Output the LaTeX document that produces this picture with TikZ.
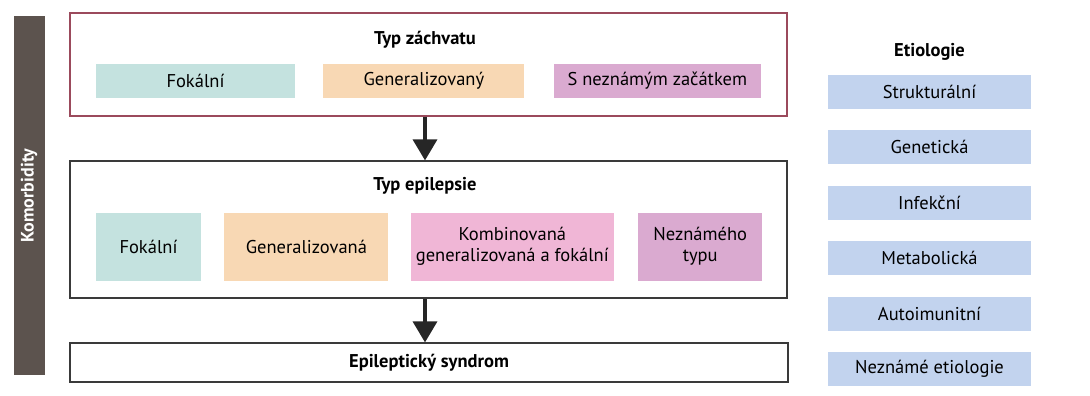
\documentclass[tikz,border=0pt]{standalone}
\usepackage{fontspec}
\setmainfont{PT Sans}
\usetikzlibrary{arrows.meta, positioning}

\definecolor{framered}{HTML}{9B4A5C}
\definecolor{framegray}{HTML}{3A3A3A}
\definecolor{komorb}{HTML}{5C534E}
\definecolor{tealbox}{HTML}{C4E2DF}
\definecolor{peachbox}{HTML}{F8D8B4}
\definecolor{mauvebox}{HTML}{DAAAD0}
\definecolor{pinkbox}{HTML}{F0B6D6}
\definecolor{bluebox}{HTML}{C2D3EE}

\begin{document}
\begin{tikzpicture}[
  x=1pt, y=-1pt,
  font=\fontsize{18.5}{21}\selectfont,
  frame/.style={rectangle, draw=framegray, line width=1.2pt, inner sep=0pt},
  box/.style={rectangle, align=center, inner sep=0pt, minimum height=34pt},
  title/.style={font=\fontsize{18.5}{21}\selectfont\bfseries},
  arrow/.style={-{Triangle[width=24pt,length=21pt]}, line width=3.6pt, draw=black!85}
]
\useasboundingbox (0,0) rectangle (1090,396);

% left bar
\node[rectangle, fill=komorb, text=white, rotate=90, minimum width=359pt, minimum height=31pt,
  font=\fontsize{18}{20}\selectfont\bfseries] (komorb) at (29,195.5) {Komorbidity};

% seizure type
\node[frame, draw=framered, minimum width=717pt, minimum height=103pt] (zachvat) at (428.5,64.5) {};
\node[title] (zachvatT) at (425,40) {Typ záchvatu};
\node[box, fill=tealbox, minimum width=199pt] (zFok) at (195.5,81) {Fokální};
\node[box, fill=peachbox, minimum width=201pt, right=28pt of zFok] (zGen) {Generalizovaný};
\node[box, fill=mauvebox, minimum width=207pt, right=29pt of zGen] (zNez) {S neznámým začátkem};

% epilepsy type
\node[frame, minimum width=717pt, minimum height=137pt] (epil) at (428.5,229.5) {};
\node[title] (epilT) at (425,186) {Typ epilepsie};
\node[box, fill=tealbox, minimum width=105pt, minimum height=68pt] (eFok) at (148.5,246.5) {Fokální};
\node[box, fill=peachbox, minimum width=164pt, minimum height=68pt, right=23pt of eFok] (eGen) {Generalizovaná};
\node[box, fill=pinkbox, minimum width=203pt, minimum height=68pt, right=22pt of eGen] (eKomb) {Kombinovaná\\generalizovaná a fokální};
\node[box, fill=mauvebox, minimum width=124pt, minimum height=68pt, right=24pt of eKomb] (eNez) {Neznámého\\typu};

% syndrome
\node[frame, title, minimum width=718pt, minimum height=39pt] (syndrom) at (429,362.5) {Epileptický syndrom};

\draw[arrow] (zachvat.south -| zachvatT) -- (epil.north -| zachvatT);
\draw[arrow] (epil.south -| zachvatT) -- (syndrom.north -| zachvatT);

% etiology
\node[title] (etiolT) at (929.5,52) {Etiologie};
\node[box, fill=bluebox, minimum width=203pt] (struk) at (929.5,92) {Strukturální};
\node[box, fill=bluebox, minimum width=203pt, below=21pt of struk] (genet) {Genetická};
\node[box, fill=bluebox, minimum width=203pt, below=21pt of genet] (infek) {Infekční};
\node[box, fill=bluebox, minimum width=203pt, below=21pt of infek] (metab) {Metabolická};
\node[box, fill=bluebox, minimum width=203pt, below=21pt of metab] (autoim) {Autoimunitní};
\node[box, fill=bluebox, minimum width=203pt, below=21pt of autoim] (nezet) {Neznámé etiologie};
\end{tikzpicture}
\end{document}
